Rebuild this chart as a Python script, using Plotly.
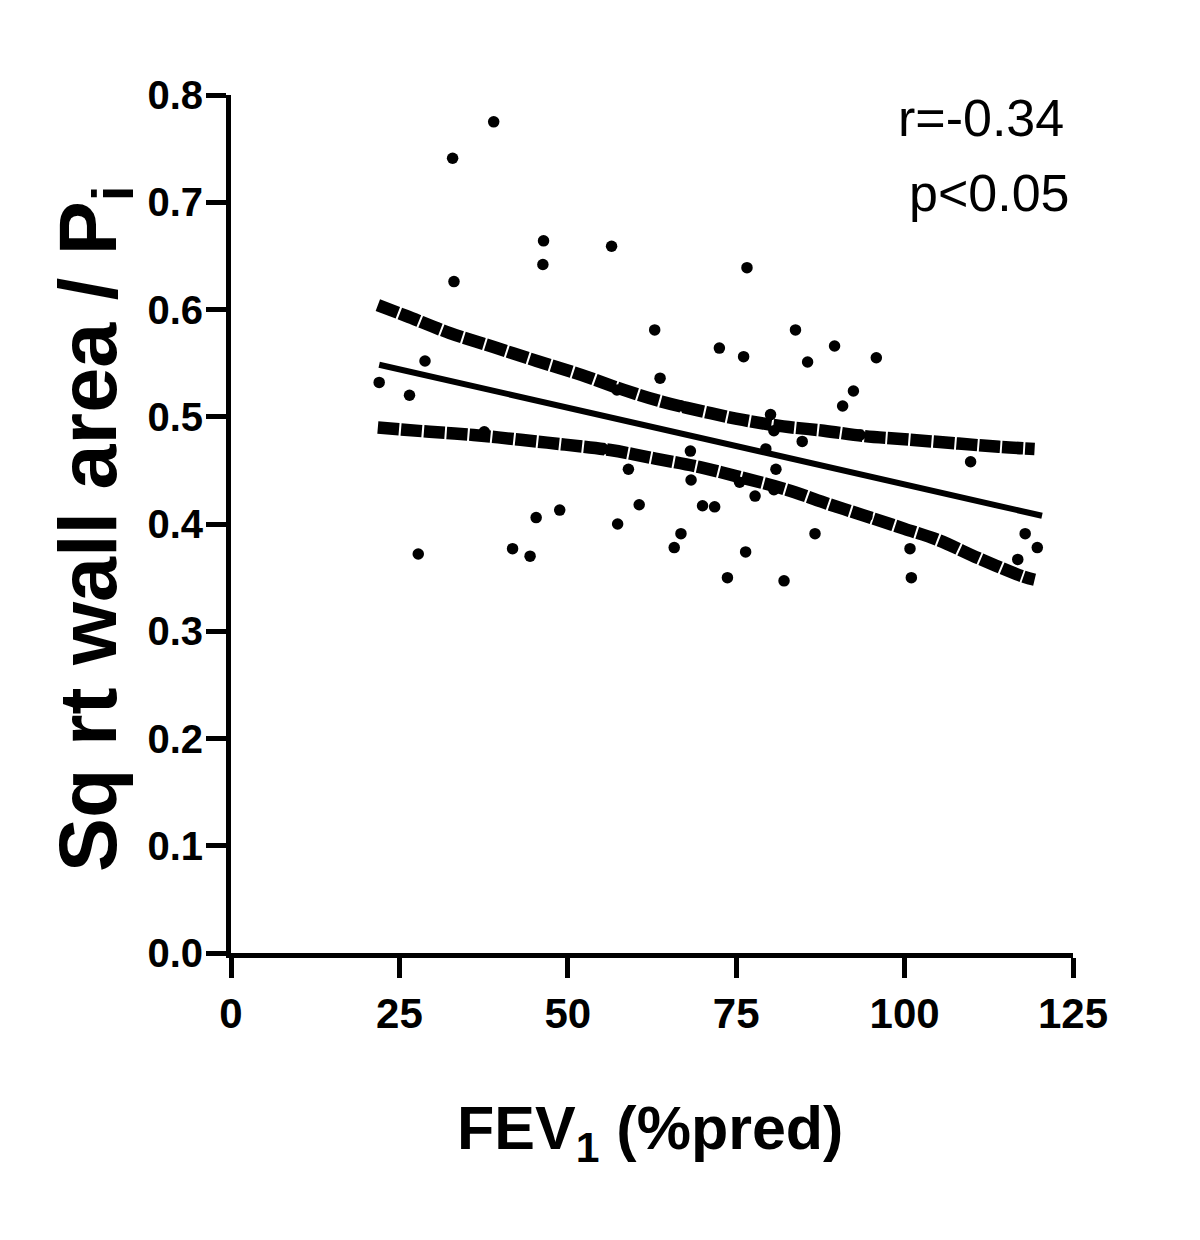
import plotly.graph_objects as go

# Scatter data: FEV1 (%pred) vs Sq rt wall area / Pi
fev1 = [22.0, 26.5, 28.8, 27.8, 32.9, 33.1, 37.6, 39.0, 41.8, 44.4, 45.3, 46.4, 46.3, 48.8,
        55.3, 56.5, 57.3, 57.4, 59.0, 60.6, 62.9, 63.7, 65.8, 66.8, 66.9, 68.2, 68.3, 70.0,
        71.8, 72.5, 73.7, 75.5, 76.1, 76.4, 76.6, 77.8, 79.4, 80.1, 80.6, 80.6, 80.9, 82.1,
        83.8, 84.8, 85.6, 86.7, 89.6, 90.8, 92.4, 93.4, 94.4, 95.8, 100.8, 101.0, 109.8,
        116.8, 117.9, 119.7]
sqrt_wa = [0.532, 0.520, 0.552, 0.372, 0.741, 0.626, 0.486, 0.775, 0.377, 0.370, 0.406, 0.664,
           0.642, 0.413, 0.470, 0.659, 0.525, 0.400, 0.451, 0.418, 0.581, 0.536, 0.378, 0.391,
           0.510, 0.468, 0.441, 0.417, 0.416, 0.564, 0.350, 0.439, 0.556, 0.374, 0.639, 0.426,
           0.470, 0.502, 0.487, 0.432, 0.451, 0.347, 0.581, 0.477, 0.551, 0.391, 0.566, 0.510,
           0.524, 0.483, 0.407, 0.555, 0.377, 0.350, 0.458, 0.367, 0.391, 0.378]

# Regression line
fit_x = [22.0, 120.4]
fit_y = [0.5485, 0.4077]

# 95% confidence bands
upper_x = [21.8, 26.0, 32.5, 39.0, 45.4, 52.0, 58.3, 64.0, 70.0, 76.0, 82.0, 88.0, 94.0, 100.0, 108.0, 114.0, 119.3]
upper_y = [0.604, 0.594, 0.578, 0.565, 0.552, 0.539, 0.525, 0.514, 0.505, 0.497, 0.491, 0.487, 0.482, 0.479, 0.475, 0.472, 0.470]
lower_x = [21.8, 29.5, 36.0, 43.0, 49.6, 56.3, 63.0, 69.6, 76.0, 82.5, 89.0, 95.4, 100.0, 105.0, 111.0, 117.6, 119.3]
lower_y = [0.490, 0.486, 0.483, 0.4785, 0.474, 0.469, 0.461, 0.453, 0.443, 0.432, 0.418, 0.405, 0.3955, 0.385, 0.368, 0.351, 0.348]

x_ticks = [0, 25, 50, 75, 100, 125]
y_ticks = [0.0, 0.1, 0.2, 0.3, 0.4, 0.5, 0.6, 0.7, 0.8]

# page offset (browser body margin)
OFF = 8
L, T, W, H = 231 - OFF, 95 - OFF, 842, 858


def px(xp):
    return (xp - 231) / W


def py(yp):
    return (953 - yp) / H


fig = go.Figure()
fig.add_trace(go.Scatter(x=fev1, y=sqrt_wa, mode="markers",
                         marker=dict(color="black", size=11.5), showlegend=False))
band_line = dict(color="black", width=12.5, dash="21px,2px")
fig.add_trace(go.Scatter(x=upper_x, y=upper_y, mode="lines", line=dict(band_line, shape="spline", smoothing=1.0), showlegend=False))
fig.add_trace(go.Scatter(x=lower_x, y=lower_y, mode="lines", line=dict(band_line, shape="spline", smoothing=1.0), showlegend=False))
fig.add_trace(go.Scatter(x=fit_x, y=fit_y, mode="lines", line=dict(color="black", width=6), showlegend=False))

axis_common = dict(showline=True, linewidth=5, linecolor="black", ticks="outside",
                   ticklen=20, tickwidth=5, tickcolor="black", showgrid=False, zeroline=False)

fig.update_xaxes(range=[0, 125], tickvals=x_ticks, ticktext=[str(v) for v in x_ticks],
                 tickfont=dict(family="Liberation Sans, Arial", size=42, color="black", weight="bold"),
                 **axis_common)
fig.update_yaxes(range=[0, 0.8], tickvals=y_ticks, ticktext=[f"{v:.1f}" for v in y_ticks],
                 tickfont=dict(family="Liberation Sans, Arial", size=40, color="black", weight="bold"),
                 ticklabelstandoff=-5,
                 **axis_common)

fig.add_annotation(text="r=-0.34", xref="paper", yref="paper", x=px(1066), y=py(118),
                   xanchor="right", yanchor="middle", showarrow=False,
                   font=dict(family="Liberation Sans, Arial", size=52, color="black"))
fig.add_annotation(text="p<0.05", xref="paper", yref="paper", x=px(1072), y=py(193),
                   xanchor="right", yanchor="middle", showarrow=False,
                   font=dict(family="Liberation Sans, Arial", size=52, color="black"))
fig.add_annotation(text="FEV<sub>1</sub> (%pred)", xref="paper", yref="paper",
                   x=px(650), y=py(1132),
                   xanchor="center", yanchor="middle", showarrow=False,
                   font=dict(family="Liberation Sans, Arial", size=61, color="black", weight="bold"))
fig.add_annotation(text="Sq rt wall area / P<sub>i</sub>", xref="paper", yref="paper",
                   x=px(94), y=py(529), textangle=-90,
                   xanchor="center", yanchor="middle", showarrow=False,
                   font=dict(family="Liberation Sans, Arial", size=81, color="black", weight="bold"))

fig.update_layout(width=1200, height=1240, plot_bgcolor="white", paper_bgcolor="white",
                  margin=dict(l=L, r=1200 - L - W, t=T, b=1240 - T - H), showlegend=False)

fig.write_html("out.html")
